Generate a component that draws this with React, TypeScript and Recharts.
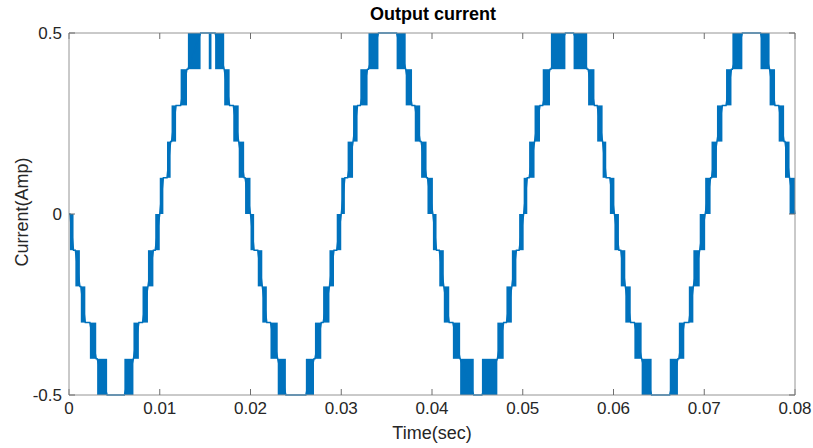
import { LineChart, Line, XAxis, YAxis, ReferenceArea } from "recharts";

const timeTicks = [0, 0.01, 0.02, 0.03, 0.04, 0.05, 0.06, 0.07, 0.08];
const currentTicks = [-0.5, 0, 0.5];

// PWM chattering bands, one row per 20 ms period
// start / end time (s)
const bandStart = [
  0.0001, 0.0007, 0.0013, 0.0023, 0.0031, 0.0061, 0.0071, 0.0081, 0.0087, 0.0095, 0.0100, 0.0108, 0.0113, 0.0123, 0.0131, 0.0154, 0.0161, 0.0171, 0.0181, 0.0187, 0.0194,
  0.0200, 0.0208, 0.0213, 0.0222, 0.0230, 0.0261, 0.0271, 0.0280, 0.0287, 0.0295, 0.0300, 0.0307, 0.0313, 0.0321, 0.0330, 0.0361, 0.0371, 0.0381, 0.0388, 0.0395,
  0.0401, 0.0408, 0.0413, 0.0423, 0.0431, 0.0455, 0.0472, 0.0482, 0.0488, 0.0496, 0.0501, 0.0507, 0.0513, 0.0522, 0.0531, 0.0556, 0.0572, 0.0582, 0.0588, 0.0596,
  0.0601, 0.0608, 0.0613, 0.0623, 0.0631, 0.0662, 0.0672, 0.0683, 0.0688, 0.0695, 0.0701, 0.0708, 0.0714, 0.0724, 0.0731, 0.0762, 0.0772, 0.0782, 0.0789, 0.0794,
];
const bandEnd = [
  0.0005, 0.0012, 0.0018, 0.0030, 0.0042, 0.0071, 0.0077, 0.0087, 0.0093, 0.0100, 0.0104, 0.0112, 0.0118, 0.0130, 0.0145, 0.0157, 0.0171, 0.0177, 0.0187, 0.0193, 0.0200,
  0.0204, 0.0213, 0.0218, 0.0230, 0.0239, 0.0270, 0.0278, 0.0287, 0.0292, 0.0300, 0.0304, 0.0313, 0.0318, 0.0329, 0.0341, 0.0371, 0.0378, 0.0387, 0.0394, 0.0401,
  0.0405, 0.0413, 0.0419, 0.0431, 0.0446, 0.0472, 0.0479, 0.0488, 0.0493, 0.0501, 0.0505, 0.0513, 0.0519, 0.0530, 0.0547, 0.0571, 0.0579, 0.0588, 0.0592, 0.0601,
  0.0606, 0.0613, 0.0619, 0.0631, 0.0642, 0.0671, 0.0678, 0.0688, 0.0695, 0.0701, 0.0707, 0.0714, 0.0720, 0.0730, 0.0742, 0.0772, 0.0778, 0.0788, 0.0794, 0.0800,
];
// lower edge of each band (band spans one 0.1 A level)
const bandLow = [
  -0.1, -0.2, -0.3, -0.4, -0.5, -0.5, -0.4, -0.3, -0.2, -0.1, 0, 0.1, 0.2, 0.3, 0.4, 0.4, 0.4, 0.3, 0.2, 0.1, 0,
  -0.1, -0.2, -0.3, -0.4, -0.5, -0.5, -0.4, -0.3, -0.2, -0.1, 0, 0.1, 0.2, 0.3, 0.4, 0.4, 0.3, 0.2, 0.1, 0,
  -0.1, -0.2, -0.3, -0.4, -0.5, -0.5, -0.4, -0.3, -0.2, -0.1, 0, 0.1, 0.2, 0.3, 0.4, 0.4, 0.3, 0.2, 0.1, 0,
  -0.1, -0.2, -0.3, -0.4, -0.5, -0.5, -0.4, -0.3, -0.2, -0.1, 0, 0.1, 0.2, 0.3, 0.4, 0.4, 0.3, 0.2, 0.1, 0,
];
// level the current sits at after each band
const bandTo = [
  -0.1, -0.2, -0.3, -0.4, -0.5, -0.4, -0.3, -0.2, -0.1, 0, 0.1, 0.2, 0.3, 0.4, 0.5, 0.5, 0.4, 0.3, 0.2, 0.1, 0,
  -0.1, -0.2, -0.3, -0.4, -0.5, -0.4, -0.3, -0.2, -0.1, 0, 0.1, 0.2, 0.3, 0.4, 0.5, 0.4, 0.3, 0.2, 0.1, 0,
  -0.1, -0.2, -0.3, -0.4, -0.5, -0.4, -0.3, -0.2, -0.1, 0, 0.1, 0.2, 0.3, 0.4, 0.5, 0.4, 0.3, 0.2, 0.1, 0,
  -0.1, -0.2, -0.3, -0.4, -0.5, -0.4, -0.3, -0.2, -0.1, 0, 0.1, 0.2, 0.3, 0.4, 0.5, 0.4, 0.3, 0.2, 0.1, 0,
];

const LEVEL_STEP = 0.1;
const BLUE = "#0072BD";
const AXIS = "#949494";
const TICK = "#6e6e6e";
const TEXT = "#262626";
const FONT = "'Liberation Sans', Arial, sans-serif";

// step trace through the band end points
const points: { t: number; i: number }[] = [{ t: 0, i: 0 }];
let held = 0;
bandStart.forEach((s, k) => {
  points.push({ t: s, i: held });
  points.push({ t: bandEnd[k], i: bandTo[k] });
  held = bandTo[k];
});
points.push({ t: 0.08, i: 0 });

const blank = () => "";

export default function App() {
  return (
    <div style={{ position: "absolute", left: 0, top: 0, width: 813, height: 448, background: "#fff", fontFamily: FONT }}>
      <LineChart width={813} height={448} data={points} margin={{ top: 33, right: 18, bottom: 0, left: 0 }}>
        <XAxis
          dataKey="t"
          type="number"
          domain={[0, 0.08]}
          ticks={timeTicks}
          interval={0}
          tickFormatter={(v) => String(v)}
          tickLine={false}
          tickSize={0}
          tickMargin={7}
          height={53}
          axisLine={{ stroke: AXIS }}
          tick={{ fill: TEXT, fontSize: 17, fontFamily: FONT }}
        />
        {/* inward tick marks, MATLAB style box */}
        <XAxis xAxisId="bt" dataKey="t" type="number" domain={[0, 0.08]} ticks={timeTicks} interval={0} orientation="bottom" mirror axisLine={false} tickSize={6} tickLine={{ stroke: TICK }} tickFormatter={blank} />
        <XAxis xAxisId="top" dataKey="t" type="number" domain={[0, 0.08]} ticks={timeTicks} interval={0} orientation="top" mirror axisLine={{ stroke: AXIS }} tickSize={6} tickLine={{ stroke: TICK }} tickFormatter={blank} />
        <YAxis
          type="number"
          domain={[-0.5, 0.5]}
          ticks={currentTicks}
          interval={0}
          width={69}
          tickFormatter={(v) => String(v)}
          tickLine={false}
          tickSize={0}
          tickMargin={7}
          axisLine={{ stroke: AXIS }}
          tick={{ fill: TEXT, fontSize: 17, fontFamily: FONT }}
        />
        <YAxis yAxisId="lt" dataKey="i" type="number" domain={[-0.5, 0.5]} ticks={currentTicks} interval={0} orientation="left" mirror axisLine={false} tickSize={6} tickLine={{ stroke: TICK }} tickFormatter={blank} />
        <YAxis yAxisId="rt" dataKey="i" type="number" domain={[-0.5, 0.5]} ticks={currentTicks} interval={0} orientation="right" mirror axisLine={{ stroke: AXIS }} tickSize={6} tickLine={{ stroke: TICK }} tickFormatter={blank} />
        {bandStart.map((s, k) => (
          <ReferenceArea
            key={k}
            x1={s}
            x2={bandEnd[k]}
            y1={bandLow[k]}
            y2={bandLow[k] + LEVEL_STEP}
            fill={BLUE}
            fillOpacity={1}
            stroke="none"
          />
        ))}
        <Line dataKey="i" type="linear" stroke={BLUE} strokeWidth={1.5} dot={false} isAnimationActive={false} />
      </LineChart>
      <div style={{ position: "absolute", left: 433, top: 4, transform: "translateX(-50%)", fontWeight: "bold", fontSize: 18, color: "#000", whiteSpace: "nowrap" }}>
        Output current
      </div>
      <div style={{ position: "absolute", left: 432, top: 423, transform: "translateX(-50%)", fontSize: 18, color: TEXT, whiteSpace: "nowrap" }}>
        Time(sec)
      </div>
      <div style={{ position: "absolute", left: 22, top: 212, transform: "translate(-50%, -50%) rotate(-90deg)", fontSize: 18, color: TEXT, whiteSpace: "nowrap" }}>
        Current(Amp)
      </div>
    </div>
  );
}
